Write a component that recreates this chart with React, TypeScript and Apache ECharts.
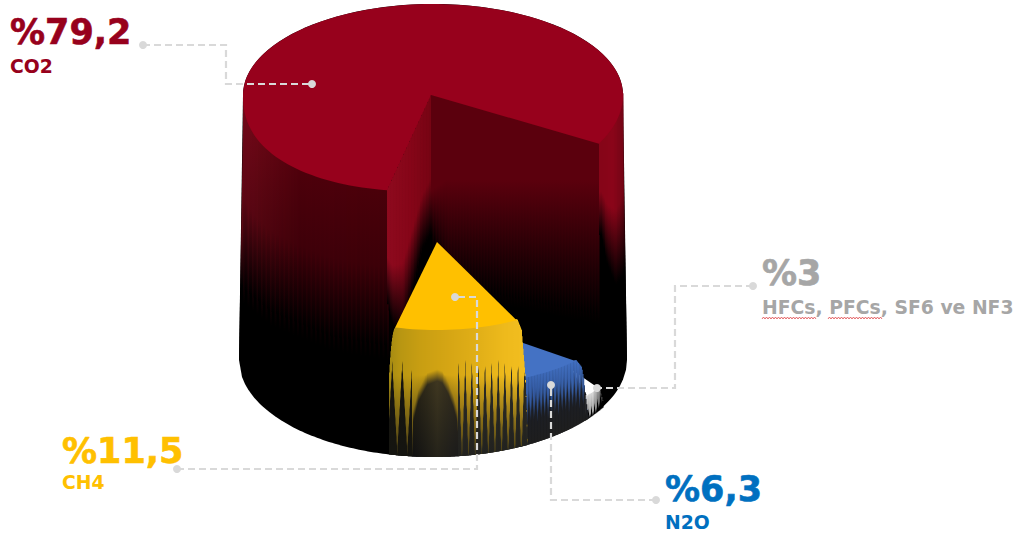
import React, { useEffect, useRef } from "react";
import * as echarts from "echarts";

// Greenhouse gas shares, percent
const gases = ["CO2", "HFCs, PFCs, SF6 ve NF3", "N2O", "CH4"];
const shares = [79.2, 3, 6.3, 11.5];
const shareLabels = ["%79,2", "%3", "%6,3", "%11,5"];

const START_DEG = 194;
const FONT = '"DejaVu Sans", Verdana, sans-serif';

type Pt = [number, number];
type Stop = { offset: number; color: string };

const lerp = (a: number, b: number, t: number) => a + (b - a) * t;
const clamp01 = (t: number) => Math.max(0, Math.min(1, t));
const hex = (c: number[]) => "#" + c.map((v) => Math.round(v).toString(16).padStart(2, "0")).join("");
const rgb = (h: string) => [1, 3, 5].map((i) => parseInt(h.slice(i, i + 2), 16));
const mix = (a: string, b: string, t: number) => {
  const ca = rgb(a);
  const cb = rgb(b);
  return hex(ca.map((v, i) => lerp(v, cb[i], clamp01(t))));
};
const ramp = (pairs: [number, string][], x: number) => {
  if (x <= pairs[0][0]) return pairs[0][1];
  for (let i = 1; i < pairs.length; i++) {
    if (x <= pairs[i][0]) {
      return mix(pairs[i - 1][1], pairs[i][1], (x - pairs[i - 1][0]) / (pairs[i][0] - pairs[i - 1][0]));
    }
  }
  return pairs[pairs.length - 1][1];
};
const curve = (pairs: [number, number][], x: number) => {
  if (x <= pairs[0][0]) return pairs[0][1];
  for (let i = 1; i < pairs.length; i++) {
    if (x <= pairs[i][0]) {
      return lerp(pairs[i - 1][1], pairs[i][1], (x - pairs[i - 1][0]) / (pairs[i][0] - pairs[i - 1][0]));
    }
  }
  return pairs[pairs.length - 1][1];
};
// Triangle wave in 0..1, zero at mid-period; shades the ribbed walls
const rib = (x: number, period: number) => {
  const f = x / period - Math.floor(x / period);
  return Math.abs(f - 0.5) * 2;
};

// Slice angles, clockwise from the back of the pie
const total = shares.reduce((a, b) => a + b, 0);
const spans = shares.map((v) => (v / total) * 360);
const edges: number[] = [];
spans.reduce((acc, s, i) => {
  edges[i] = acc;
  return acc + s;
}, START_DEG);

type Plate = {
  cx: number;
  cy: number;
  rx: number;
  ryFront: number;
  ryFrontLeft: number;
  ryBack: number;
  apexX: number;
  apexY: number;
  leftPower: number;
};
const plates: Plate[] = [
  { cx: 433, cy: 95, rx: 190, ryFront: 100, ryFrontLeft: 97, ryBack: 91, apexX: 431, apexY: 95, leftPower: 2.3 },
  { cx: 508, cy: 363, rx: 103, ryFront: 51, ryFrontLeft: 51, ryBack: 51, apexX: 572, apexY: 370, leftPower: 2 },
  { cx: 445, cy: 316, rx: 170, ryFront: 70, ryFrontLeft: 70, ryBack: 70, apexX: 445, apexY: 316, leftPower: 2 },
  { cx: 437, cy: 242, rx: 173, ryFront: 88, ryFrontLeft: 88, ryBack: 88, apexX: 437, apexY: 242, leftPower: 2 },
];

const onPlate = (p: Plate, deg: number): Pt => {
  const r = (deg * Math.PI) / 180;
  const c = Math.cos(r);
  const s = Math.sin(r);
  const x = p.cx + s * p.rx;
  if (c >= 0) return [x, p.cy - c * p.ryBack];
  if (s >= 0) return [x, p.cy - c * p.ryFront];
  const n = p.leftPower;
  return [x, p.cy + p.ryFrontLeft * Math.pow(Math.max(0, 1 - Math.pow(-s, n)), 1 / n)];
};
const plateOutline = (p: Plate, from: number, to: number): Pt[] => {
  const pts: Pt[] = [[p.apexX, p.apexY]];
  const n = Math.max(8, Math.round((to - from) / 2));
  for (let i = 0; i <= n; i++) pts.push(onPlate(p, lerp(from, to, i / n)));
  return pts;
};
const frontRim = (p: Plate, x: number) => {
  const u = clamp01(Math.abs(x - p.cx) / p.rx);
  if (x >= p.cx) return p.cy + p.ryFront * Math.sqrt(1 - u * u);
  const n = p.leftPower;
  return p.cy + p.ryFrontLeft * Math.pow(1 - Math.pow(u, n), 1 / n);
};

// Floor of the cylinder
const floorY = (x: number) => 360 + 97 * Math.sqrt(Math.max(0, 1 - ((x - 433) / 194) ** 2));

const vgrad = (colorStops: Stop[]) => ({ type: "linear", x: 0, y: 0, x2: 0, y2: 1, colorStops });

const strip = (x: number, w: number, top: number, bottom: number, stops: [number, string][]) => {
  const span = Math.max(1, bottom - top);
  return {
    type: "polygon",
    silent: true,
    shape: { points: [[x, top], [x + w + 0.5, top], [x + w + 0.5, bottom], [x, bottom]] },
    style: {
      fill: vgrad(stops.map(([y, color]) => ({ offset: clamp01((y - top) / span), color }))),
    },
  };
};

const drawMainSlice = (index: number) => {
  const p = plates[index];
  const from = edges[index];
  const to = from + spans[index];
  const [leftX, leftY] = onPlate(p, from);
  const [rightX, rightY] = onPlate(p, to);
  const kids: any[] = [];

  // Solid body, bottom arc included
  const body: Pt[] = [];
  for (let x = 239; x <= 627; x += 3) body.push([x, floorY(x)]);
  body.reverse();
  body.unshift([627, 360]);
  body.push([239, 360]);
  for (let d = -90; d <= 90; d += 3) {
    const r = (d * Math.PI) / 180;
    body.push([p.cx + Math.sin(r) * p.rx, p.cy - Math.cos(r) * p.ryBack]);
  }
  kids.push({ type: "polygon", silent: true, shape: { points: body }, style: { fill: "#000000" } });

  // Slight splay of the side edges below the top plate
  kids.push({
    type: "polygon",
    silent: true,
    shape: { points: [[243.5, 95], [243.5, 360], [239, 360]] },
    style: { fill: vgrad([{ offset: 0, color: "#76091a" }, { offset: 0.5, color: "#5a0713" }, { offset: 0.72, color: "#000000" }, { offset: 1, color: "#000000" }]) },
  });
  kids.push({
    type: "polygon",
    silent: true,
    shape: { points: [[622.5, 95], [622.5, 360], [627, 360]] },
    style: { fill: vgrad([{ offset: 0, color: "#680413" }, { offset: 0.4, color: "#5a0310" }, { offset: 0.66, color: "#000000" }, { offset: 1, color: "#000000" }]) },
  });

  const W = 1.5;
  // Outer wall, left of the notch
  for (let x = 243; x < leftX; x += W) {
    const t = frontRim(p, x) - 3;
    const c = ramp([[240, "#76091a"], [262, "#640613"], [300, "#4e000b"], [390, "#4a000a"]], x);
    const end = curve([[240, 290], [270, 315], [330, 340], [390, 350]], x) + (rib(x, 4.5) - 0.5) * 22;
    kids.push(strip(x, W, t, end, [[t, c], [lerp(t, end, 0.5), mix(c, "#000000", 0.2)], [end, "#000000"]]));
  }
  // Lit wall of the notch
  for (let x = leftX; x < p.apexX; x += W) {
    const t = p.cy + ((p.apexX - x) / (p.apexX - leftX)) * (leftY - p.cy) - 3;
    const c = ramp([[386, "#8e0a1e"], [410, "#860518"], [431, "#760413"]], x);
    const end = curve([[386, 300], [392, 325], [402, 335], [411, 295], [421, 250], [431, 232]], x);
    kids.push(strip(x, W, t, end, [[t, c], [lerp(t, end, 0.6), c], [end, "#000000"]]));
  }
  // Far wall of the notch
  for (let x = p.apexX; x < rightX; x += W) {
    const t = p.cy + ((x - p.apexX) / (rightX - p.apexX)) * (rightY - p.cy) - 3;
    const c = "#5b000d";
    const lead = curve([[431, 190], [445, 180], [600, 180]], x);
    const end = curve([[431, 240], [448, 290], [600, 320]], x) + (rib(x, 3) - 0.5) * 30;
    kids.push(strip(x, W, t, end, [[t, c], [lead, c], [end, "#000000"]]));
  }
  // Outer wall, right of the notch
  for (let x = rightX; x < 622.5; x += W) {
    const t = frontRim(p, x + W) - 3;
    const c = ramp([[601, "#860518"], [612, "#8a0519"], [628, "#680413"]], x);
    const end = curve([[601, 235], [606, 262], [615, 285], [628, 268]], x);
    kids.push(strip(x, W, t, end, [[t, c], [lerp(t, end, 0.55), c], [end, "#000000"]]));
  }
  kids.push({
    type: "polygon",
    silent: true,
    shape: { points: plateOutline(p, from, to) },
    style: { fill: "#97011c" },
  });
  return kids;
};

const drawWhiteSlice = (index: number) => {
  const p = plates[index];
  const from = edges[index];
  const to = from + spans[index];
  const kids: any[] = [];
  const W = 1;
  for (let x = 584; x < 603; x += W) {
    const t = curve([[584, 396], [587, 396], [598, 388], [603, 405]], x) - 1;
    const c = ramp([[584, "#cfcfcf"], [592, "#dedede"], [598, "#9a9a9a"], [603, "#2c2c2c"]], x);
    const reach = curve([[584, 422], [595, 412], [603, 398]], x) - rib(x, 3) * 10;
    kids.push(strip(x, W, t, floorY(x), [[t, c], [reach, mix(c, "#000000", 0.25)], [reach + 5, "#000000"]]));
  }
  kids.push({
    type: "polygon",
    silent: true,
    shape: { points: plateOutline(p, from, to) },
    style: { fill: "#ffffff" },
  });
  return kids;
};

const drawBlueSlice = (index: number) => {
  const p = plates[index];
  const from = edges[index];
  const to = from + spans[index];
  const [rimX] = onPlate(p, from);
  const kids: any[] = [];
  const W = 0.75;
  for (let x = 520; x < 588; x += W) {
    const t =
      x <= rimX
        ? frontRim(p, x) - 1
        : curve([[rimX, frontRim(p, rimX) - 1], [581, 367], [583, 378], [585, 397], [588, 419]], x);
    const b = floorY(x);
    const c = ramp([[520, "#3a65b2"], [560, "#3f6cbc"], [578, "#416fc0"], [588, "#2e4f88"]], x);
    const reach = curve([[520, 422], [585, 402]], x) - rib(x, 3.5) * 22;
    kids.push(strip(x, W, t, b, [[t, c], [reach - 10, mix(c, "#1f3a70", 0.35)], [reach + 5, "#1c1e24"], [b, "#1e1e1e"]]));
  }
  kids.push({
    type: "polygon",
    silent: true,
    shape: { points: plateOutline(p, from, to) },
    style: { fill: "#4472c4" },
  });
  return kids;
};

const archLine: [number, number][] = [
  [412, 453], [413, 420], [418, 400], [427, 383], [437, 379], [442, 381], [448, 392], [453, 405], [457, 420], [458, 440],
];

const drawYellowSlice = (index: number) => {
  const p = plates[index];
  const from = edges[index];
  const to = from + spans[index];
  const [rimX] = onPlate(p, from);
  const kids: any[] = [];
  const W = 0.5;
  for (let x = 389; x < 527.5; x += W) {
    const b = floorY(x);
    let t = frontRim(p, Math.max(397, Math.min(rimX, x))) - 1;
    if (x < 397) t += Math.pow((397 - x) / 8, 3) * 46;
    if (x > rimX) t = curve([[rimX, t], [521, 330], [525, 380], [527.5, 452]], x);
    const c = ramp(
      [[389, "#a58a12"], [400, "#b89612"], [420, "#c89e12"], [450, "#d6a614"], [480, "#e2b018"], [505, "#eeba1c"], [527, "#f2be20"]],
      x,
    );
    let reach: number;
    let soft = 3;
    let dark: string;
    let foot: string;
    if (x < 412) {
      reach = 363 + rib(x - 392 + 5, 10) * 90;
      dark = "#15140f";
      foot = "#151510";
    } else if (x < 458) {
      reach = curve(archLine, x);
      soft = 10;
      dark = ramp([[413, "#1c1a12"], [437, "#3f3720"], [458, "#23201a"]], x);
      foot = ramp([[413, "#111111"], [437, "#25231a"], [458, "#1b1b1b"]], x);
    } else {
      reach = 362 + rib(x - 465 + 3.3, 6.6) * 100;
      dark = "#2a2a24";
      foot = "#22221f";
    }
    const dim = mix(c, "#4a3f16", (reach - 375) / 80);
    const shoulder = Math.max(t + 1, Math.min(375, reach - soft));
    const head = x > 525 ? dark : c;
    kids.push(
      strip(x, W, t, b, [
        [t, head],
        [shoulder, head],
        [Math.max(shoulder + 1, reach - soft), dim],
        [Math.max(shoulder + 2, reach + 2), dark],
        [b, foot],
      ]),
    );
  }
  kids.push({
    type: "polygon",
    silent: true,
    shape: { points: plateOutline(p, from, to) },
    style: { fill: "#ffc000" },
  });
  return kids;
};

const painters = [drawMainSlice, drawWhiteSlice, drawBlueSlice, drawYellowSlice];

// Leader lines: elbow routes from each label to its slice
const leaderRoutes: Pt[][] = [
  [[143, 45], [226, 45], [226, 84], [312, 84]],
  [[753, 286], [675, 286], [675, 388], [597, 388]],
  [[656, 500], [551, 500], [551, 385]],
  [[177, 469], [477, 469], [477, 297], [455, 297]],
];
const labelSpots: { x: number; big: number; small: number; color: string }[] = [
  { x: 10, big: 49, small: 76, color: "#97011c" },
  { x: 762, big: 290, small: 317, color: "#a6a6a6" },
  { x: 665, big: 506, small: 532, color: "#0070c0" },
  { x: 62, big: 468, small: 492, color: "#ffc000" },
];

const squiggle = (x0: number, x1: number, y: number): Pt[] => {
  const pts: Pt[] = [];
  let up = false;
  for (let x = x0; x <= x1; x += 1.5) {
    pts.push([x, y + (up ? -1 : 1)]);
    up = !up;
  }
  return pts;
};

const buildGraphics = () => {
  const els: any[] = [];
  leaderRoutes.forEach((route) => {
    els.push({
      type: "polyline",
      z: 10,
      silent: true,
      shape: { points: route },
      style: { stroke: "#d9d9d9", lineWidth: 2.2, lineDash: [7, 4], fill: "none" },
    });
    [route[0], route[route.length - 1]].forEach(([x, y]) =>
      els.push({ type: "circle", z: 11, silent: true, shape: { cx: x, cy: y, r: 4 }, style: { fill: "#d9d9d9" } }),
    );
  });
  gases.forEach((gas, i) => {
    const s = labelSpots[i];
    els.push({
      type: "text",
      z: 12,
      x: s.x,
      y: s.big,
      style: {
        text: shareLabels[i],
        font: `bold 35px ${FONT}`,
        fill: s.color,
        stroke: s.color,
        lineWidth: 0.6,
        textAlign: "left",
        textVerticalAlign: "bottom",
      },
    });
    els.push({
      type: "text",
      z: 12,
      x: s.x,
      y: s.small,
      style: {
        text: gas,
        font: `bold 18.8px ${FONT}`,
        fill: s.color,
        textAlign: "left",
        textVerticalAlign: "bottom",
      },
    });
  });
  els.push({ type: "polyline", z: 12, silent: true, shape: { points: squiggle(762, 817, 318) }, style: { stroke: "#e0484a", lineWidth: 0.8, fill: "none" } });
  els.push({ type: "polyline", z: 12, silent: true, shape: { points: squiggle(828, 882, 318) }, style: { stroke: "#e0484a", lineWidth: 0.8, fill: "none" } });
  return els;
};

export default function App() {
  const ref = useRef<HTMLDivElement>(null);
  useEffect(() => {
    const chart = echarts.init(ref.current!, null, { renderer: "svg" });
    chart.setOption({
      animation: false,
      backgroundColor: "#ffffff",
      series: [
        {
          type: "custom",
          coordinateSystem: "none",
          silent: true,
          data: shares.map((v, i) => ({ name: gases[i], value: [v] })),
          renderItem: (params: any) => ({
            type: "group",
            children: painters[params.dataIndex](params.dataIndex),
          }),
        },
      ],
      graphic: { elements: buildGraphics() },
    });
    return () => chart.dispose();
  }, []);
  return <div ref={ref} style={{ position: "fixed", left: 0, top: 0, width: 1019, height: 537 }} />;
}
